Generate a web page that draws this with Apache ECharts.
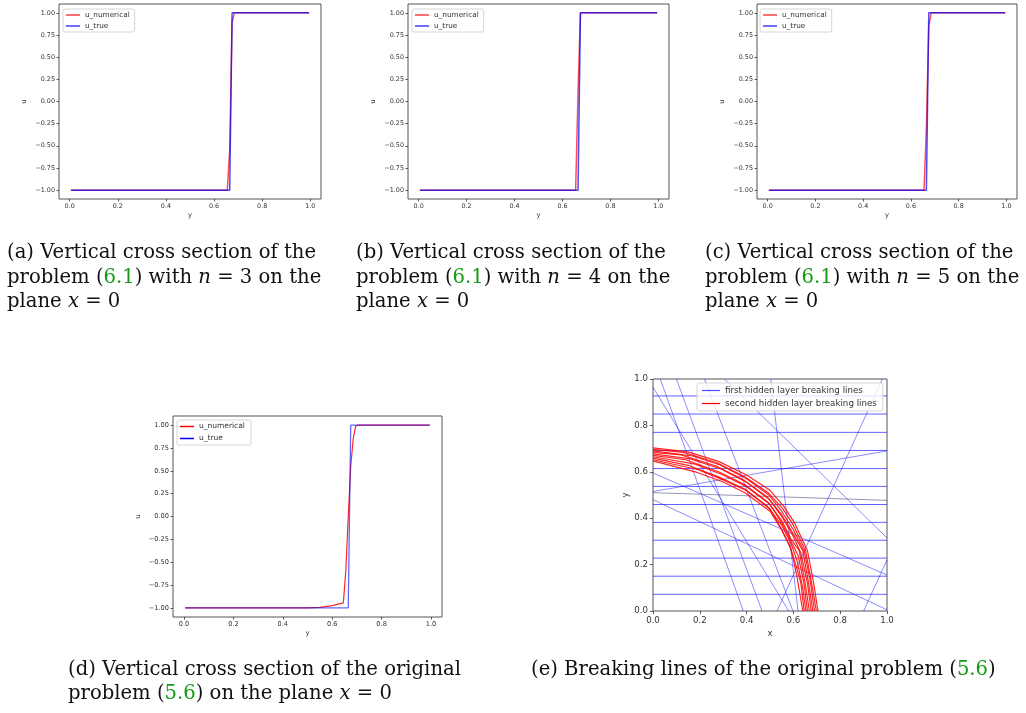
<!DOCTYPE html>
<html><head><meta charset="utf-8">
<script src="https://cdn.jsdelivr.net/npm/echarts@6/dist/echarts.min.js"></script>
<style>html,body{margin:0;padding:0;background:#fff}#c{width:1026px;height:713px}</style>
</head><body><div id="c"></div>
<script>
// ---------- data ----------
const xTicks = [0, 0.2, 0.4, 0.6, 0.8, 1.0];
const uTicks = [-1, -0.75, -0.5, -0.25, 0, 0.25, 0.5, 0.75, 1];
const eTicks = [0, 0.2, 0.4, 0.6, 0.8, 1.0];

const uTrue = [[0.005,-1],[0.665,-1],[0.675,1],[0.995,1]];
const uNumN3 = [[0.005,-1],[0.655,-1],[0.665,-0.55],[0.675,0.9],[0.685,1],[0.995,1]];
const uNumN4 = [[0.005,-1],[0.655,-1],[0.665,0.1],[0.675,1],[0.995,1]];
const uNumN5 = [[0.005,-1],[0.655,-1],[0.665,-0.3],[0.675,0.85],[0.685,1],[0.995,1]];
const uNumOrig = [[0.005,-1],[0.5,-1],[0.55,-0.995],[0.6,-0.975],[0.645,-0.945],[0.655,-0.6],[0.665,0.0],[0.675,0.55],[0.685,0.85],[0.695,0.99],[0.705,1],[0.995,1]];

const firstLayerHorizontalY = [0.072, 0.150, 0.228, 0.305, 0.382, 0.459, 0.537, 0.614, 0.692, 0.770, 0.849, 0.927];
const firstLayerSlanted = [
  [0.031,1, 0.386,0],
  [0.10,1, 0.466,0],
  [0,0.965, 0.58,0],
  [0.22,1, 0.598,0],
  [0.305,1, 1,0.315],
  [0.503,1, 0.62,0],
  [0.98,1, 0.53,0],
  [0,0.515, 1,0.69],
  [0,0.595, 1,0.155],
  [0,0.48, 1,0.005],
  [0.9,0, 1,0.22]
];
const firstLayerGrey = [[0,0.51, 1,0.477]];
const secondLayerCurves = [
  [[0,0.703],[0.15,0.686],[0.28,0.645],[0.4,0.586],[0.5,0.52],[0.56,0.45],[0.605,0.38],[0.66,0.26],[0.685,0.13],[0.705,0]],
  [[0,0.697],[0.13,0.684],[0.27,0.64],[0.39,0.58],[0.49,0.512],[0.555,0.44],[0.6,0.37],[0.652,0.26],[0.678,0.12],[0.698,0]],
  [[0,0.69],[0.17,0.668],[0.29,0.628],[0.4,0.57],[0.495,0.5],[0.55,0.43],[0.6,0.35],[0.647,0.255],[0.672,0.13],[0.69,0]],
  [[0,0.684],[0.12,0.673],[0.27,0.625],[0.39,0.563],[0.49,0.49],[0.55,0.415],[0.595,0.34],[0.64,0.26],[0.665,0.12],[0.683,0]],
  [[0,0.677],[0.16,0.656],[0.29,0.612],[0.4,0.555],[0.5,0.478],[0.555,0.4],[0.6,0.32],[0.632,0.25],[0.66,0.12],[0.676,0]],
  [[0,0.671],[0.14,0.652],[0.28,0.6],[0.39,0.546],[0.49,0.47],[0.55,0.39],[0.59,0.31],[0.625,0.26],[0.652,0.11],[0.668,0]],
  [[0,0.665],[0.18,0.633],[0.3,0.586],[0.4,0.536],[0.5,0.46],[0.55,0.38],[0.595,0.29],[0.62,0.24],[0.645,0.12],[0.66,0]],
  [[0,0.659],[0.15,0.628],[0.28,0.578],[0.39,0.527],[0.49,0.45],[0.55,0.37],[0.59,0.29],[0.615,0.22],[0.64,0.1],[0.653,0]],
  [[0,0.652],[0.19,0.61],[0.3,0.565],[0.4,0.518],[0.5,0.44],[0.545,0.36],[0.585,0.28],[0.61,0.2],[0.632,0.12],[0.646,0]],
  [[0,0.647],[0.18,0.6],[0.3,0.556],[0.393,0.51],[0.5,0.43],[0.55,0.35],[0.59,0.265],[0.6,0.22],[0.615,0.15],[0.64,0]]
];

// ---------- layout ----------
const SANS = 'DejaVu Sans';
const SERIF = 'DejaVu Serif';
const TXT = '#333';
const panels = [
  {grid:{left:59, top:4, width:262, height:195}, num:uNumN3, fs:6.4, lfs:7.3, leg:{left:63, top:9}, yGap:31, xGap:13},
  {grid:{left:408, top:4, width:261, height:195}, num:uNumN4, fs:6.4, lfs:7.3, leg:{left:412, top:9}, yGap:31, xGap:13},
  {grid:{left:757, top:4, width:260, height:195}, num:uNumN5, fs:6.4, lfs:7.3, leg:{left:760, top:9}, yGap:31, xGap:13},
  {grid:{left:173, top:416, width:269, height:201}, num:uNumOrig, fs:6.6, lfs:7.5, leg:{left:177, top:420}, yGap:31, xGap:13}
];

const grids = [], xAxes = [], yAxes = [], series = [], legends = [];
const fmtU = v => (v < 0 ? '\u2212' : '') + Math.abs(v).toFixed(2);

panels.forEach((p, i) => {
  grids.push(Object.assign({show:true, borderColor:'#555', borderWidth:1, backgroundColor:'transparent'}, p.grid));
  xAxes.push({gridIndex:i, type:'value', min:-0.0445, max:1.0445, position:'bottom',
    axisLine:{show:false, onZero:false}, splitLine:{show:false},
    axisTick:{show:true, customValues:xTicks, length:2.5, lineStyle:{color:TXT, width:0.8}},
    axisLabel:{customValues:xTicks, formatter:v=>v.toFixed(1), fontSize:p.fs, color:TXT, fontFamily:SANS, margin:4},
    name:'y', nameLocation:'middle', nameGap:p.xGap, nameTextStyle:{fontSize:p.fs+0.4, color:TXT, fontFamily:SANS}});
  yAxes.push({gridIndex:i, type:'value', min:-1.1, max:1.1, position:'left',
    axisLine:{show:false, onZero:false}, splitLine:{show:false},
    axisTick:{show:true, customValues:uTicks, length:2.5, lineStyle:{color:TXT, width:0.8}},
    axisLabel:{customValues:uTicks, formatter:fmtU, fontSize:p.fs, color:TXT, fontFamily:SANS, margin:4},
    name:'u', nameLocation:'middle', nameRotate:90, nameGap:p.yGap, nameTextStyle:{fontSize:p.fs+0.4, color:TXT, fontFamily:SANS}});
  const isD = i === 3;
  series.push({type:'line', name:'u_numerical#'+i, xAxisIndex:i, yAxisIndex:i, data:p.num, symbol:'none', silent:true,
    lineStyle:{color: isD ? 'rgba(255,0,0,0.85)' : 'rgba(255,0,0,0.7)', width: isD ? 1.2 : 1.5}});
  series.push({type:'line', name:'u_true#'+i, xAxisIndex:i, yAxisIndex:i, data:uTrue, symbol:'none', silent:true,
    lineStyle:{color: isD ? 'rgba(0,0,255,0.6)' : 'rgba(0,0,255,0.7)', width: isD ? 1.3 : 1.5}});
  legends.push({left:p.leg.left, top:p.leg.top, orient:'vertical', selectedMode:false,
    icon:'rect', itemWidth:14, itemHeight:1.5, itemGap:3,
    padding: isD ? [2,6,2,3] : [2,5,2,3],
    backgroundColor:'rgba(255,255,255,0.8)', borderColor:'#ccc', borderWidth:0.8, borderRadius:2,
    textStyle:{fontSize:p.lfs, color:TXT, fontFamily:SANS, lineHeight: isD ? 9 : 8},
    formatter: n => n.split('#')[0],
    data:[{name:'u_numerical#'+i, itemStyle:{color: isD ? '#ff0000' : 'rgba(255,0,0,0.75)'}},
          {name:'u_true#'+i, itemStyle:{color: isD ? '#0000ff' : 'rgba(0,0,255,0.75)'}}]});
});

// panel (e)
const E = 4;
grids.push({show:true, left:653, top:379, width:234, height:232, borderColor:'#555', borderWidth:1, backgroundColor:'transparent'});
xAxes.push({gridIndex:E, type:'value', min:0, max:1, interval:0.2, position:'bottom',
  axisLine:{show:false, onZero:false}, splitLine:{show:false},
  axisTick:{show:true, length:3, lineStyle:{color:TXT, width:0.8}},
  axisLabel:{formatter:v=>v.toFixed(1), fontSize:8.6, color:TXT, fontFamily:SANS, margin:5},
  name:'x', nameLocation:'middle', nameGap:18, nameTextStyle:{fontSize:8.6, color:TXT, fontFamily:SANS}});
yAxes.push({gridIndex:E, type:'value', min:0, max:1, interval:0.2, position:'left',
  axisLine:{show:false, onZero:false}, splitLine:{show:false},
  axisTick:{show:true, length:3, lineStyle:{color:TXT, width:0.8}},
  axisLabel:{formatter:v=>v.toFixed(1), fontSize:8.6, color:TXT, fontFamily:SANS, margin:5},
  name:'y', nameLocation:'middle', nameRotate:90, nameGap:22, nameTextStyle:{fontSize:8.6, color:TXT, fontFamily:SANS}});

const FIRST = 'first hidden layer breaking lines';
const SECOND = 'second hidden layer breaking lines';
firstLayerHorizontalY.forEach(y => series.push({type:'line', name:FIRST, xAxisIndex:E, yAxisIndex:E, symbol:'none', silent:true,
  data:[[0,y],[1,y]], lineStyle:{color:'rgba(0,0,255,0.62)', width:1}}));
firstLayerSlanted.forEach(s => series.push({type:'line', name:FIRST, xAxisIndex:E, yAxisIndex:E, symbol:'none', silent:true,
  data:[[s[0],s[1]],[s[2],s[3]]], lineStyle:{color:'rgba(0,0,255,0.5)', width:0.9}}));
firstLayerGrey.forEach(s => series.push({type:'line', name:FIRST, xAxisIndex:E, yAxisIndex:E, symbol:'none', silent:true,
  data:[[s[0],s[1]],[s[2],s[3]]], lineStyle:{color:'rgba(60,60,120,0.6)', width:0.9}}));
secondLayerCurves.forEach(c => series.push({type:'line', name:SECOND, xAxisIndex:E, yAxisIndex:E, symbol:'none', silent:true,
  data:c, lineStyle:{color:'rgba(255,0,0,0.85)', width:1.2}}));
legends.push({left:697, top:383, orient:'vertical', selectedMode:false,
  icon:'rect', itemWidth:18, itemHeight:1.2, itemGap:2, padding:[2,6,2,5],
  backgroundColor:'rgba(255,255,255,0.8)', borderColor:'#ccc', borderWidth:0.8, borderRadius:2,
  textStyle:{fontSize:8.7, color:TXT, fontFamily:SANS, lineHeight:11},
  data:[{name:FIRST, itemStyle:{color:'rgba(0,0,255,0.7)'}}, {name:SECOND, itemStyle:{color:'#ff0000'}}]});

// ---------- captions ----------
const CFS = 19.6;
const INK = '#111';
const GREEN = '#159a15';
const rich = {
  t:{fontFamily:SERIF, fontSize:CFS, color:INK, fill:INK},
  g:{fontFamily:SERIF, fontSize:CFS, color:GREEN, fill:GREEN},
  i:{fontFamily:SERIF, fontSize:CFS, color:INK, fill:INK, fontStyle:'italic'}
};
const captions = [
  [7,253,'{t|(a) Vertical cross section of the}'],
  [7,278,'{t|problem (}{g|6.1}{t|) with }{i|n}{t| = 3 on the}'],
  [7,302,'{t|plane }{i|x}{t| = 0}'],
  [356,253,'{t|(b) Vertical cross section of the}'],
  [356,278,'{t|problem (}{g|6.1}{t|) with }{i|n}{t| = 4 on the}'],
  [356,302,'{t|plane }{i|x}{t| = 0}'],
  [705,253,'{t|(c) Vertical cross section of the}'],
  [705,278,'{t|problem (}{g|6.1}{t|) with }{i|n}{t| = 5 on the}'],
  [705,302,'{t|plane }{i|x}{t| = 0}'],
  [68,670,'{t|(d) Vertical cross section of the original}'],
  [68,694,'{t|problem (}{g|5.6}{t|) on the plane }{i|x}{t| = 0}'],
  [531,670,'{t|(e) Breaking lines of the original problem (}{g|5.6}{t|)}']
];
const graphic = captions.map(c => ({type:'text', x:c[0], y:c[1], silent:true,
  style:{text:c[2], rich:rich, fontFamily:SERIF, fontSize:CFS, fill:INK, verticalAlign:'middle', align:'left'}}));

const chart = echarts.init(document.getElementById('c'), null, {renderer:'canvas'});
chart.setOption({animation:false, backgroundColor:'#fff', grid:grids, xAxis:xAxes, yAxis:yAxes, series:series, legend:legends, graphic:graphic});
</script></body></html>
